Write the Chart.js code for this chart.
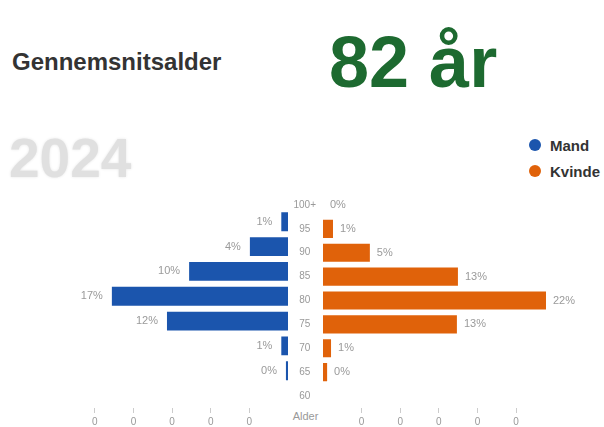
<!DOCTYPE html>
<html>
<head>
<meta charset="utf-8">
<script src="https://cdn.jsdelivr.net/npm/chart.js@4"></script>
<style>
  body { margin:0; width:604px; height:427px; background:#fff; position:relative; overflow:hidden; font-family:"Liberation Sans", Arial, sans-serif; }
  #title { position:absolute; left:12px; top:50px; font-size:24px; line-height:1; font-weight:bold; color:#333; }
  #avg { position:absolute; left:329px; top:26px; font-size:72px; line-height:1; font-weight:bold; color:#1d6a30; }
  #year { position:absolute; left:9px; top:131px; font-size:55px; line-height:1; font-weight:bold; color:#e0e0e0; text-shadow:0 0 3px #e6e6e6; }
  #legend { position:absolute; left:529px; top:132px; }
  .row { display:flex; align-items:center; height:26px; font-size:15px; font-weight:bold; color:#333; }
  .dot { width:12px; height:12px; border-radius:50%; margin-right:9px; }
  #alder { position:absolute; left:288px; width:35px; top:411px; text-align:center; font-size:11px; line-height:1; color:#999; }
  canvas { position:absolute; top:180px; }
  #left { left:0; }
  #right { left:288px; }
</style>
</head>
<body>
<div id="title">Gennemsnitsalder</div>
<div id="avg">82 år</div>
<div id="year">2024</div>
<div id="legend"></div>
<div id="alder">Alder</div>
<canvas id="left" width="288" height="247"></canvas>
<canvas id="right" width="316" height="247"></canvas>
<script>
var ageGroups = ['100+', '95', '90', '85', '80', '75', '70', '65', '60']
var seriesNames = ['Mand', 'Kvinde']
var mandPct = [null, 0.65, 3.7, 9.6, 17.1, 11.75, 0.65, 0.2, null]
var kvindePct = [0, 0.97, 4.55, 13.1, 21.65, 13.0, 0.78, 0.4, null]
var xTickValues = [3.75, 7.5, 11.25, 15, 18.75]
var xTickLabels = ['0', '0', '0', '0', '0']
var colors = ['#1b55ad', '#e0620a']

// legend
var legend = document.getElementById('legend')
seriesNames.forEach(function(name, i){
  legend.innerHTML += '<div class="row"><div class="dot" style="background:' + colors[i] + '"></div>' + name + '</div>'
})

// percent labels next to bar ends
var pctLabels = {
  id: 'pctLabels',
  afterDatasetsDraw(chart, args, opts) {
    var ctx = chart.ctx
    var meta = chart.getDatasetMeta(0)
    var data = chart.data.datasets[0].data
    ctx.save()
    ctx.font = '11px "Liberation Sans", Arial'
    ctx.fillStyle = '#9a9a9a'
    ctx.textBaseline = 'middle'
    ctx.textAlign = opts.side === 'left' ? 'right' : 'left'
    meta.data.forEach(function(bar, i){
      if (data[i] == null) return
      var x = opts.side === 'left' ? bar.x - 9 : bar.x + 7
      ctx.fillText(Math.round(data[i]) + '%', x, bar.y)
    })
    ctx.restore()
  }
}

function xScale(max, reverse) {
  return {
    min: 0, max: max, reverse: reverse,
    border: { display: false },
    grid: { drawOnChartArea: false, drawTicks: true, tickLength: 5, color: '#ccc' },
    ticks: { color: '#999', font: { size: 10 }, padding: 3, callback: function(v, i){ return xTickLabels[i] } },
    afterBuildTicks: function(s){ s.ticks = xTickValues.map(function(v){ return { value: v } }) },
    afterFit: function(s){ s.height = 19 }
  }
}

Chart.defaults.font.family = '"Liberation Sans", Arial, sans-serif'

new Chart(document.getElementById('left'), {
  type: 'bar',
  data: {
    labels: ageGroups,
    datasets: [{ label: seriesNames[0], data: mandPct, backgroundColor: colors[0], barPercentage: 0.76, categoryPercentage: 1 }]
  },
  options: {
    indexAxis: 'y', responsive: false, animation: false,
    layout: { padding: { left: 82, top: 4.5, right: 0, bottom: 0 } },
    plugins: { legend: { display: false }, tooltip: { enabled: false }, pctLabels: { side: 'left' } },
    scales: {
      x: xScale(20, true),
      y: { display: false }
    }
  },
  plugins: [pctLabels]
})

new Chart(document.getElementById('right'), {
  type: 'bar',
  data: {
    labels: ageGroups,
    datasets: [{ label: seriesNames[1], data: kvindePct, backgroundColor: colors[1], barPercentage: 0.76, categoryPercentage: 1 }]
  },
  options: {
    indexAxis: 'y', responsive: false, animation: false,
    layout: { padding: { left: 0, top: 4.5, right: 54.4, bottom: 0 } },
    plugins: { legend: { display: false }, tooltip: { enabled: false }, pctLabels: { side: 'right' } },
    scales: {
      x: xScale(22, false),
      y: {
        border: { display: false },
        grid: { display: false, drawTicks: false },
        ticks: { crossAlign: 'center', color: '#999', font: { size: 10 }, padding: 7 },
        afterFit: function(s){ s.width = 35 }
      }
    }
  },
  plugins: [pctLabels]
})
</script>
</body>
</html>
